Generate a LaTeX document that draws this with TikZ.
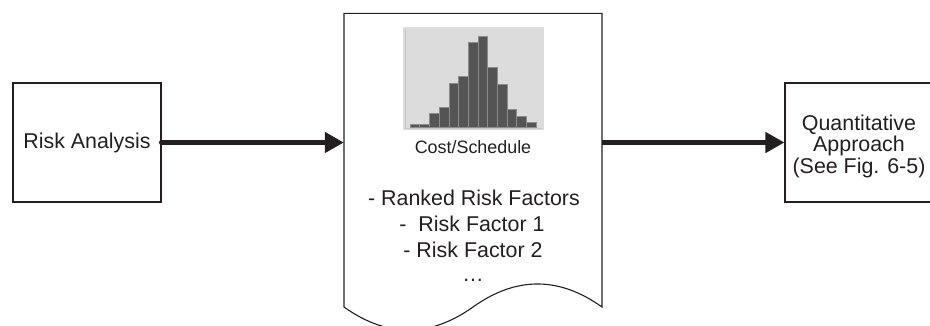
\documentclass[tikz,border=0pt]{standalone}
\usepackage{fontspec}
\setmainfont{Liberation Sans}
\usetikzlibrary{arrows.meta,calc}
\definecolor{ink}{HTML}{231F20}
\definecolor{histbg}{HTML}{DCDCDC}
\definecolor{histbar}{HTML}{545454}
\begin{document}
\begin{tikzpicture}[x=1pt,y=-1pt,
  every node/.style={text=ink, font=\fontsize{21.4}{21.5}\selectfont},
  procbox/.style={draw=ink, line width=1.1pt, minimum width=148pt, minimum height=119pt, inner sep=0pt},
  arr/.style={draw=ink, line width=4.6pt, -{Triangle[length=19pt,width=20pt]}},
  doctext/.style={anchor=base, inner sep=0pt}
]
\useasboundingbox (0,0) rectangle (930,325);
\clip (0,0) rectangle (930,325);

% left box
\node[procbox] (risk) at (87,142.5) {Risk Analysis};

% document shape
\node[minimum width=258pt, minimum height=294pt, inner sep=0pt] (doc) at (473,160) {};
\draw[ink, line width=1.1pt]
  (344,307) -- (344,13.3) -- (602,13.3) -- (602,307)
  .. controls (559,276.3) and (516,276.3) .. (473,307)
  .. controls (430,337.7) and (387,337.7) .. (344,307) -- cycle;

% histogram
\fill[histbg] (403,27) rectangle (544,130);
\draw[black!22, line width=0.6pt] (405,29) -- (405,128) -- (542,128);
\foreach \i/\t in {0/124.7,1/124.7,2/113.7,3/107.7,4/83,5/76.3,6/42.7,7/36.3,8/67.3,9/84.7,10/109.7,11/116,12/122.7}{
  \filldraw[fill=histbar, draw=black!45, line width=0.5pt] ({410+9.7*\i},127) rectangle ({410+9.7*(\i+1)},\t);
}

% document texts
\node[doctext, font=\fontsize{17.9}{18}\selectfont] (costlbl) at (473,153.3) {Cost/Schedule};
\node[doctext] (ranked) at (474,205) {- Ranked Risk Factors};
\node[doctext] (rf1) at (472,231.7) {-~ Risk Factor 1};
\node[doctext] (rf2) at (473,257) {- Risk Factor 2};
\node[doctext] (dots) at (473,281.7) {…};

% right box
\node[procbox] (quant) at (859,142.5) {};
\node[align=center, inner sep=0pt] (quanttext) at (859,146) {Quantitative\\Approach\\(See Fig. 6-5)};

% connectors
\fill[ink] (risk.east) circle (2.6pt);
\draw[arr] (risk.east) -- (risk.east -| doc.west);
\draw[arr] (quant.west -| doc.east) -- (quant.west);
\end{tikzpicture}
\end{document}
